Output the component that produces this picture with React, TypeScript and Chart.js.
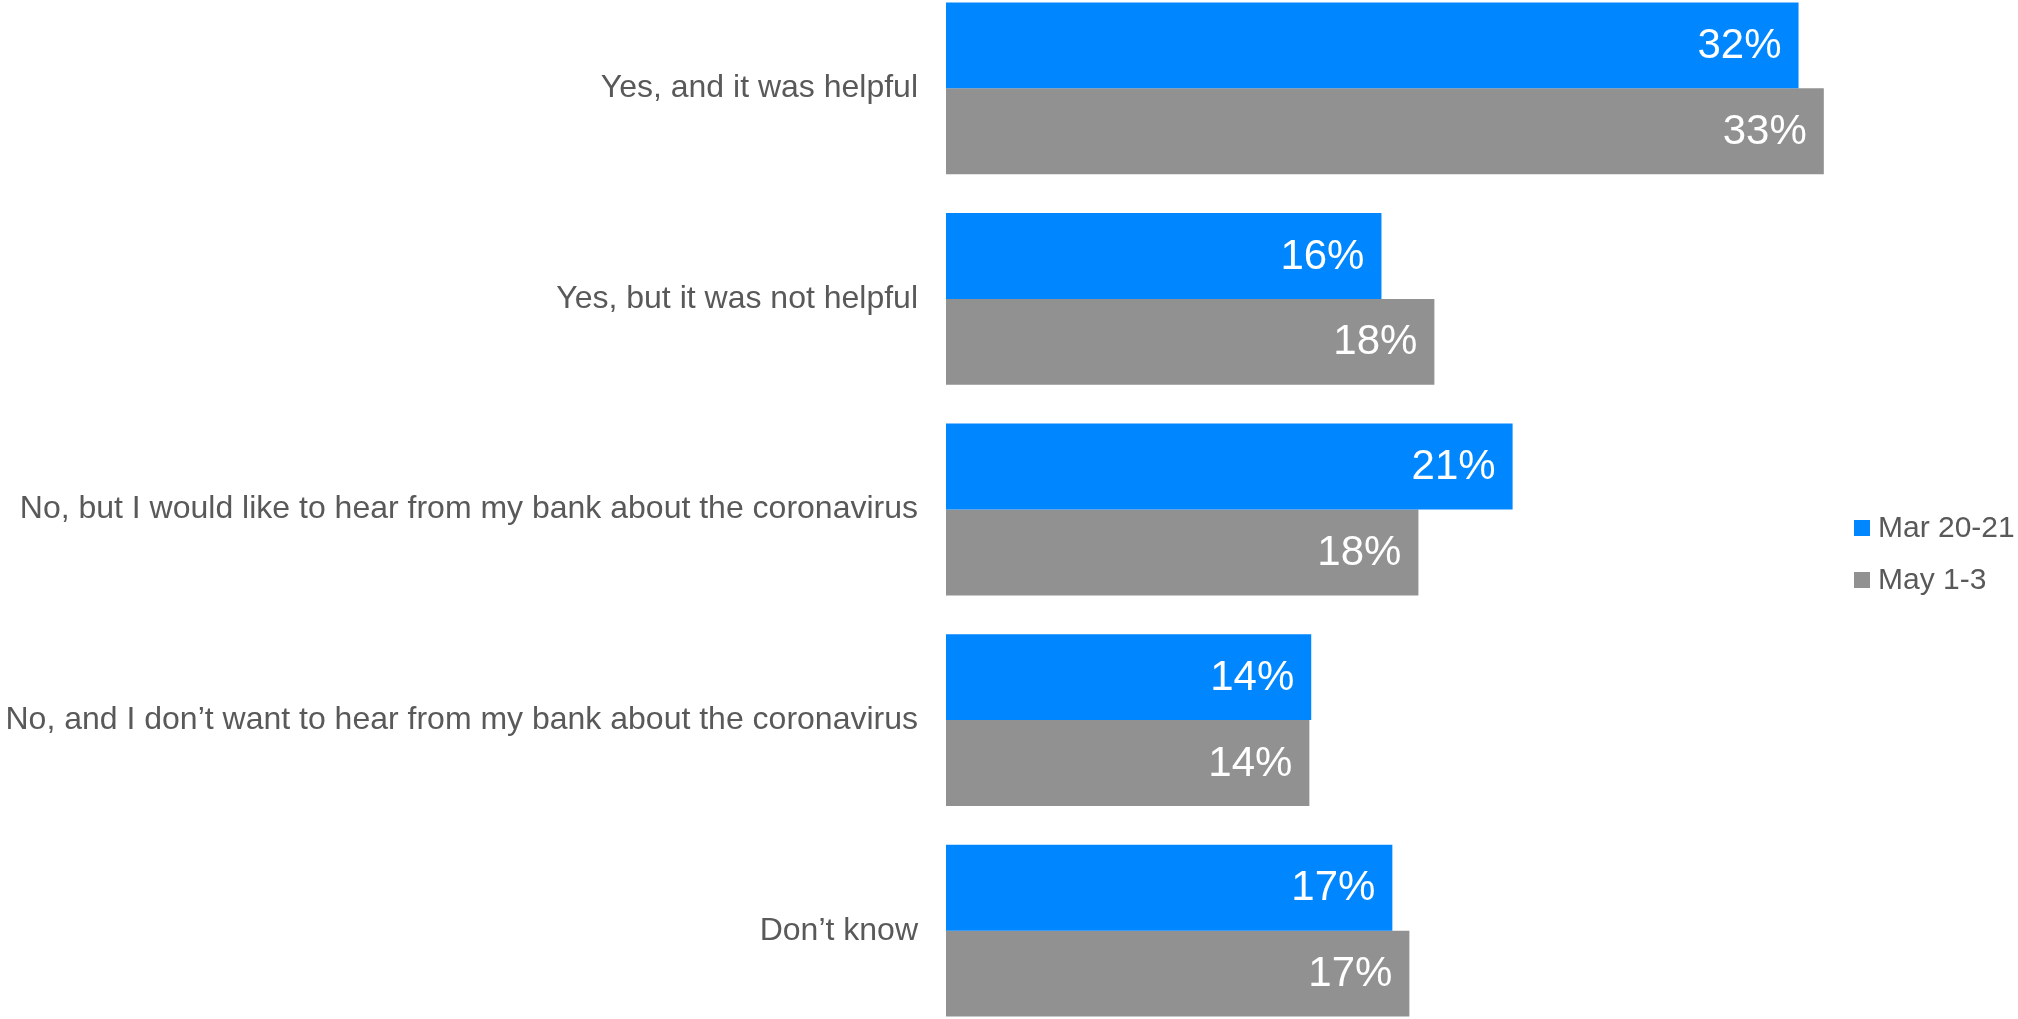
import React, { useEffect, useRef } from "react";
import { Chart, registerables } from "chart.js";

Chart.register(...registerables);

const categories = [
  "Yes, and it was helpful",
  "Yes, but it was not helpful",
  "No, but I would like to hear from my bank about the coronavirus",
  "No, and I don\u2019t want to hear from my bank about the coronavirus",
  "Don\u2019t know",
];
const seriesNames = ["Mar 20-21", "May 1-3"];
const marValues = [32.05, 16.37, 21.3, 13.73, 16.78];
const mayValues = [33.0, 18.36, 17.76, 13.66, 17.42];

const BLUE = "#0086FF";
const GRAY = "#919191";
const TEXT = "#595959";
const FONT = "'Liberation Sans', Arial, sans-serif";

export default function App() {
  const ref = useRef<HTMLCanvasElement | null>(null);

  useEffect(() => {
    if (!ref.current) return;
    const valueLabels = {
      id: "valueLabels",
      afterDatasetsDraw(chart: any) {
        const ctx = chart.ctx;
        ctx.save();
        ctx.font = `42px ${FONT}`;
        ctx.fillStyle = "#ffffff";
        ctx.textAlign = "right";
        ctx.textBaseline = "middle";
        chart.data.datasets.forEach((ds: any, di: number) => {
          const meta = chart.getDatasetMeta(di);
          meta.data.forEach((bar: any, i: number) => {
            const v = ds.data[i] as number;
            ctx.fillText(`${Math.round(v)}%`, bar.x - 17, bar.y + 1);
          });
        });
        ctx.restore();
      },
    };
    const customLegend = {
      id: "customLegend",
      afterDraw(chart: any) {
        const ctx = chart.ctx;
        ctx.save();
        ctx.font = `30px ${FONT}`;
        ctx.textAlign = "left";
        ctx.textBaseline = "middle";
        const colors = [BLUE, GRAY];
        seriesNames.forEach((name, i) => {
          const y = 537 + i * 52;
          ctx.fillStyle = colors[i];
          ctx.fillRect(1854, y, 16, 16);
          ctx.fillStyle = TEXT;
          ctx.fillText(name, 1878, y + 9);
        });
        ctx.restore();
      },
    };

    const chart = new Chart(ref.current, {
      type: "bar",
      data: {
        labels: categories,
        datasets: [
          {
            label: seriesNames[0],
            data: marValues,
            backgroundColor: BLUE,
            borderWidth: 0,
            barPercentage: 1,
            categoryPercentage: 0.816,
          },
          {
            label: seriesNames[1],
            data: mayValues,
            backgroundColor: GRAY,
            borderWidth: 0,
            barPercentage: 1,
            categoryPercentage: 0.816,
          },
        ],
      },
      options: {
        indexAxis: "y",
        responsive: false,
        animation: false,
        layout: { padding: 0 },
        plugins: {
          legend: { display: false },
          tooltip: { enabled: false },
          title: { display: false },
        },
        scales: {
          x: {
            display: false,
            min: 0,
            max: 40.3,
          },
          y: {
            grid: { display: false, drawTicks: false },
            border: { display: false },
            ticks: {
              color: TEXT,
              font: { family: FONT, size: 32 },
              padding: 28,
              autoSkip: false,
            },
            afterFit(scale: any) {
              scale.width = 946;
              scale.paddingTop = 0;
              scale.paddingBottom = 0;
            },
          },
        },
      },
      plugins: [valueLabels, customLegend],
    } as any);

    return () => chart.destroy();
  }, []);

  return (
    <canvas
      ref={ref}
      width={2018}
      height={1053}
      style={{
        position: "fixed",
        left: 0,
        top: -17,
        width: 2018,
        height: 1053,
        display: "block",
        background: "#ffffff",
      }}
    />
  );
}
